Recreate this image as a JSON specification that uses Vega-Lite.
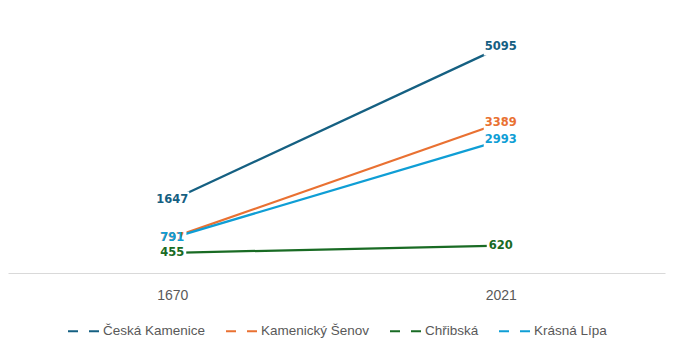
{
  "$schema": "https://vega.github.io/schema/vega-lite/v6.json",
  "width": 657,
  "height": 266,
  "padding": {"left": 8, "top": 7, "right": 17, "bottom": 5},
  "background": "white",
  "config": {
    "view": {"stroke": null},
    "font": "Liberation Sans",
    "legend": {"layout": {"bottom": {"anchor": "middle"}}}
  },
  "data": {
    "values": [
      {"town": "Česká Kamenice", "year": "1670", "value": 1647},
      {"town": "Česká Kamenice", "year": "2021", "value": 5095},
      {"town": "Kamenický Šenov", "year": "1670", "value": 797},
      {"town": "Kamenický Šenov", "year": "2021", "value": 3389},
      {"town": "Chřibská", "year": "1670", "value": 455},
      {"town": "Chřibská", "year": "2021", "value": 620},
      {"town": "Krásná Lípa", "year": "1670", "value": 791},
      {"town": "Krásná Lípa", "year": "2021", "value": 2993}
    ]
  },
  "encoding": {
    "x": {
      "field": "year",
      "type": "ordinal",
      "scale": {"type": "point", "padding": 0.5},
      "axis": {
        "title": null,
        "labelAngle": 0,
        "ticks": false,
        "grid": false,
        "domainColor": "#d9d9d9",
        "domainWidth": 1,
        "labelFont": "Liberation Sans",
        "labelFontSize": 14,
        "labelColor": "#595959",
        "labelPadding": 15
      }
    },
    "y": {
      "field": "value",
      "type": "quantitative",
      "scale": {"domain": [0, 6000]},
      "axis": null
    }
  },
  "layer": [
    {
      "mark": {"type": "line", "strokeWidth": 2.25},
      "encoding": {
        "color": {
          "field": "town",
          "type": "nominal",
          "scale": {
            "domain": ["Česká Kamenice", "Kamenický Šenov", "Chřibská", "Krásná Lípa"],
            "range": ["#156082", "#E97132", "#196B24", "#0F9ED5"]
          },
          "legend": {
            "orient": "bottom",
            "direction": "horizontal",
            "title": null,
            "symbolType": "stroke",
            "symbolSize": 1024,
            "symbolStrokeWidth": 2,
            "symbolDash": [10, 11],
            "labelFont": "Liberation Sans",
            "labelFontSize": 13.5,
            "labelColor": "#595959",
            "labelOffset": 2,
            "columnPadding": 16,
            "offset": 12
          }
        }
      }
    },
    {
      "mark": {"type": "point", "shape": "M-1,-0.5H1V0.5H-1Z", "filled": true, "fill": "white", "opacity": 1, "strokeWidth": 0},
      "encoding": {
        "size": {"condition": {"test": "datum.value < 1000", "value": 784}, "value": 1156}
      }
    },
    {
      "mark": {"type": "text", "font": "DejaVu Sans", "fontWeight": "bold", "fontSize": 11.5, "align": "center", "baseline": "middle"},
      "encoding": {
        "text": {"field": "value", "type": "quantitative", "format": "d"},
        "color": {"field": "town", "type": "nominal", "legend": null}
      }
    }
  ]
}
